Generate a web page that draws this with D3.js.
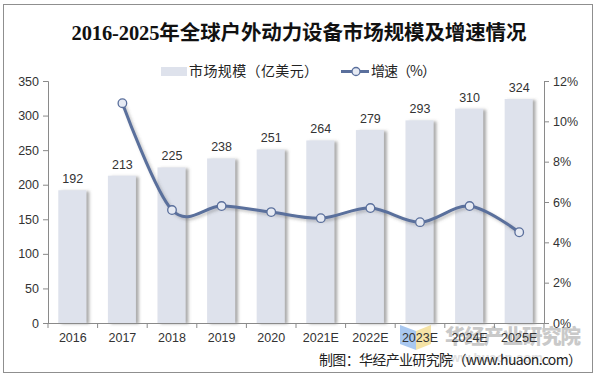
<!DOCTYPE html>
<html><head><meta charset="utf-8">
<script src="https://cdn.jsdelivr.net/npm/d3@7"></script>
<style>
html,body{margin:0;padding:0;background:#fff;}
svg{display:block;}
</style></head>
<body>
<svg id="chart" width="597" height="380"></svg>
<script>
const categories = ["2016","2017","2018","2019","2020","2021E","2022E","2023E","2024E","2025E"];
const marketSize = [192,213,225,238,251,264,279,293,310,324];
const growthRate = [null,10.9,5.6,5.8,5.5,5.2,5.7,5.0,5.8,4.5];
const leftTicks = [0,50,100,150,200,250,300,350];
const rightTicks = [0,2,4,6,8,10,12];

const svg = d3.select("#chart");
const font = "'Liberation Sans','Noto Sans CJK SC',sans-serif";
const cjk = "'Noto Sans CJK SC','Liberation Sans',sans-serif";

const defs = svg.append("defs");
const f = defs.append("filter").attr("id","shadow").attr("x","-20%").attr("y","-20%").attr("width","160%").attr("height","140%");
f.append("feDropShadow").attr("dx",3).attr("dy",1).attr("stdDeviation",1.4).attr("flood-color","#666").attr("flood-opacity",0.55);
const f2 = defs.append("filter").attr("id","lshadow").attr("x","-10%").attr("y","-10%").attr("width","130%").attr("height","130%");
f2.append("feDropShadow").attr("dx",2).attr("dy",2).attr("stdDeviation",1.5).attr("flood-color","#555").attr("flood-opacity",0.35);

// frame
svg.append("rect").attr("x",3.5).attr("y",4.5).attr("width",589).attr("height",368)
  .attr("fill","#fff").attr("stroke","#8f8f8f").attr("stroke-width",1);

const x0 = 48, x1 = 544, yTop = 81, yBot = 323;
const x = d3.scaleBand().domain(categories).range([x0,x1]).paddingInner(0).paddingOuter(0);
const yL = d3.scaleLinear().domain([0,350]).range([yBot,yTop]);
const yR = d3.scaleLinear().domain([0,12]).range([yBot,yTop]);

// watermark logo
const wm = svg.append("g");
wm.append("path").attr("d","M400,325 L416,331 L416,350 L400,344 Z").attr("fill","#a9c8f0");
wm.append("path").attr("d","M416,331 L431,325 L431,344 L416,350 Z").attr("fill","#f5e3a6");
wm.append("text").attr("x",445).attr("y",344).attr("font-family",cjk).attr("font-weight","900")
  .attr("font-size",20.5).attr("fill","#c9c9c9").attr("textLength",136).text("华经产业研究院");
wm.append("text").attr("x",440).attr("y",362).attr("font-family",font).attr("font-weight","bold")
  .attr("font-size",13).attr("fill","#e0e0e0").text("www.huaon.com");

// bars
const bw = 28;
svg.append("g").selectAll("rect").data(marketSize).join("rect")
  .attr("x",(d,i)=>x(categories[i]) + x.bandwidth()/2 - bw/2 - 0.5)
  .attr("y",d=>yL(d))
  .attr("width",bw)
  .attr("height",d=>yBot - yL(d))
  .attr("fill","#dee2ec")
  .attr("filter","url(#shadow)");

// bar labels
svg.append("g").selectAll("text").data(marketSize).join("text")
  .attr("x",(d,i)=>x(categories[i]) + x.bandwidth()/2)
  .attr("y",d=>yL(d) - 7)
  .attr("text-anchor","middle").attr("font-family",font).attr("font-size",12.5).attr("fill","#333")
  .text(d=>d);

// axes
const axL = d3.axisLeft(yL).tickValues(leftTicks).tickSize(5).tickPadding(4);
const gL = svg.append("g").attr("transform",`translate(${x0},0)`).call(axL);
const axR = d3.axisRight(yR).tickValues(rightTicks).tickSize(5).tickPadding(4).tickFormat(d=>d+"%");
const gR = svg.append("g").attr("transform",`translate(${x1},0)`).call(axR);
const axB = d3.axisBottom(x).tickSize(0).tickPadding(10);
const gB = svg.append("g").attr("transform",`translate(0,${yBot})`).call(axB);
// category boundary ticks
svg.append("g").selectAll("line").data(d3.range(categories.length+1)).join("line")
  .attr("x1",i=>x0 + i*x.bandwidth()).attr("x2",i=>x0 + i*x.bandwidth())
  .attr("y1",yBot).attr("y2",yBot+5).attr("stroke","#8a8a8a");
[gL,gR,gB].forEach(g=>{
  g.select(".domain").attr("stroke","#8a8a8a");
  g.selectAll(".tick line").attr("stroke","#8a8a8a");
  g.selectAll(".tick text").attr("font-family",font).attr("font-size",12.5).attr("fill","#333");
});
gB.select(".domain").attr("d",`M${x0},0.5H${x1}`);

// line
const pts = growthRate.map((v,i)=>({v,i})).filter(d=>d.v!==null);
const line = d3.line().x(d=>x(categories[d.i]) + x.bandwidth()/2).y(d=>yR(d.v)).curve(d3.curveCardinal.tension(0));
const color = "#5a6f9c";
svg.append("path").datum(pts).attr("d",line).attr("fill","none").attr("stroke",color)
  .attr("stroke-width",3).attr("filter","url(#lshadow)");
svg.append("g").selectAll("circle").data(pts).join("circle")
  .attr("cx",d=>x(categories[d.i]) + x.bandwidth()/2).attr("cy",d=>yR(d.v)).attr("r",4.3)
  .attr("fill","#e6eaf3").attr("stroke",color).attr("stroke-width",1.3);

// title
svg.append("text").attr("x",299).attr("y",40).attr("text-anchor","middle")
  .attr("font-family","'Liberation Serif','Noto Sans CJK SC',serif").attr("font-weight","bold")
  .attr("font-size",20.5).attr("fill","#111").attr("textLength",455).text("2016-2025年全球户外动力设备市场规模及增速情况");

// legend
svg.append("rect").attr("x",161).attr("y",67).attr("width",26).attr("height",9).attr("fill","#dee2ec");
svg.append("text").attr("x",189).attr("y",76).attr("font-family",cjk).attr("font-size",14).attr("fill","#222")
  .attr("textLength",129).text("市场规模（亿美元）");
svg.append("line").attr("x1",341).attr("x2",369).attr("y1",71.5).attr("y2",71.5).attr("stroke",color).attr("stroke-width",3);
svg.append("circle").attr("cx",356).attr("cy",71.5).attr("r",4).attr("fill","#e6eaf3").attr("stroke",color).attr("stroke-width",1.3);
svg.append("text").attr("x",371).attr("y",76).attr("font-family",cjk).attr("font-size",14).attr("fill","#222")
  .attr("textLength",65).text("增速（%）");

// source
svg.append("text").attr("x",319).attr("y",365).attr("font-family",cjk).attr("font-size",14).attr("fill","#222")
  .attr("textLength",263).text("制图：华经产业研究院（www.huaon.com）");
</script>
</body></html>
